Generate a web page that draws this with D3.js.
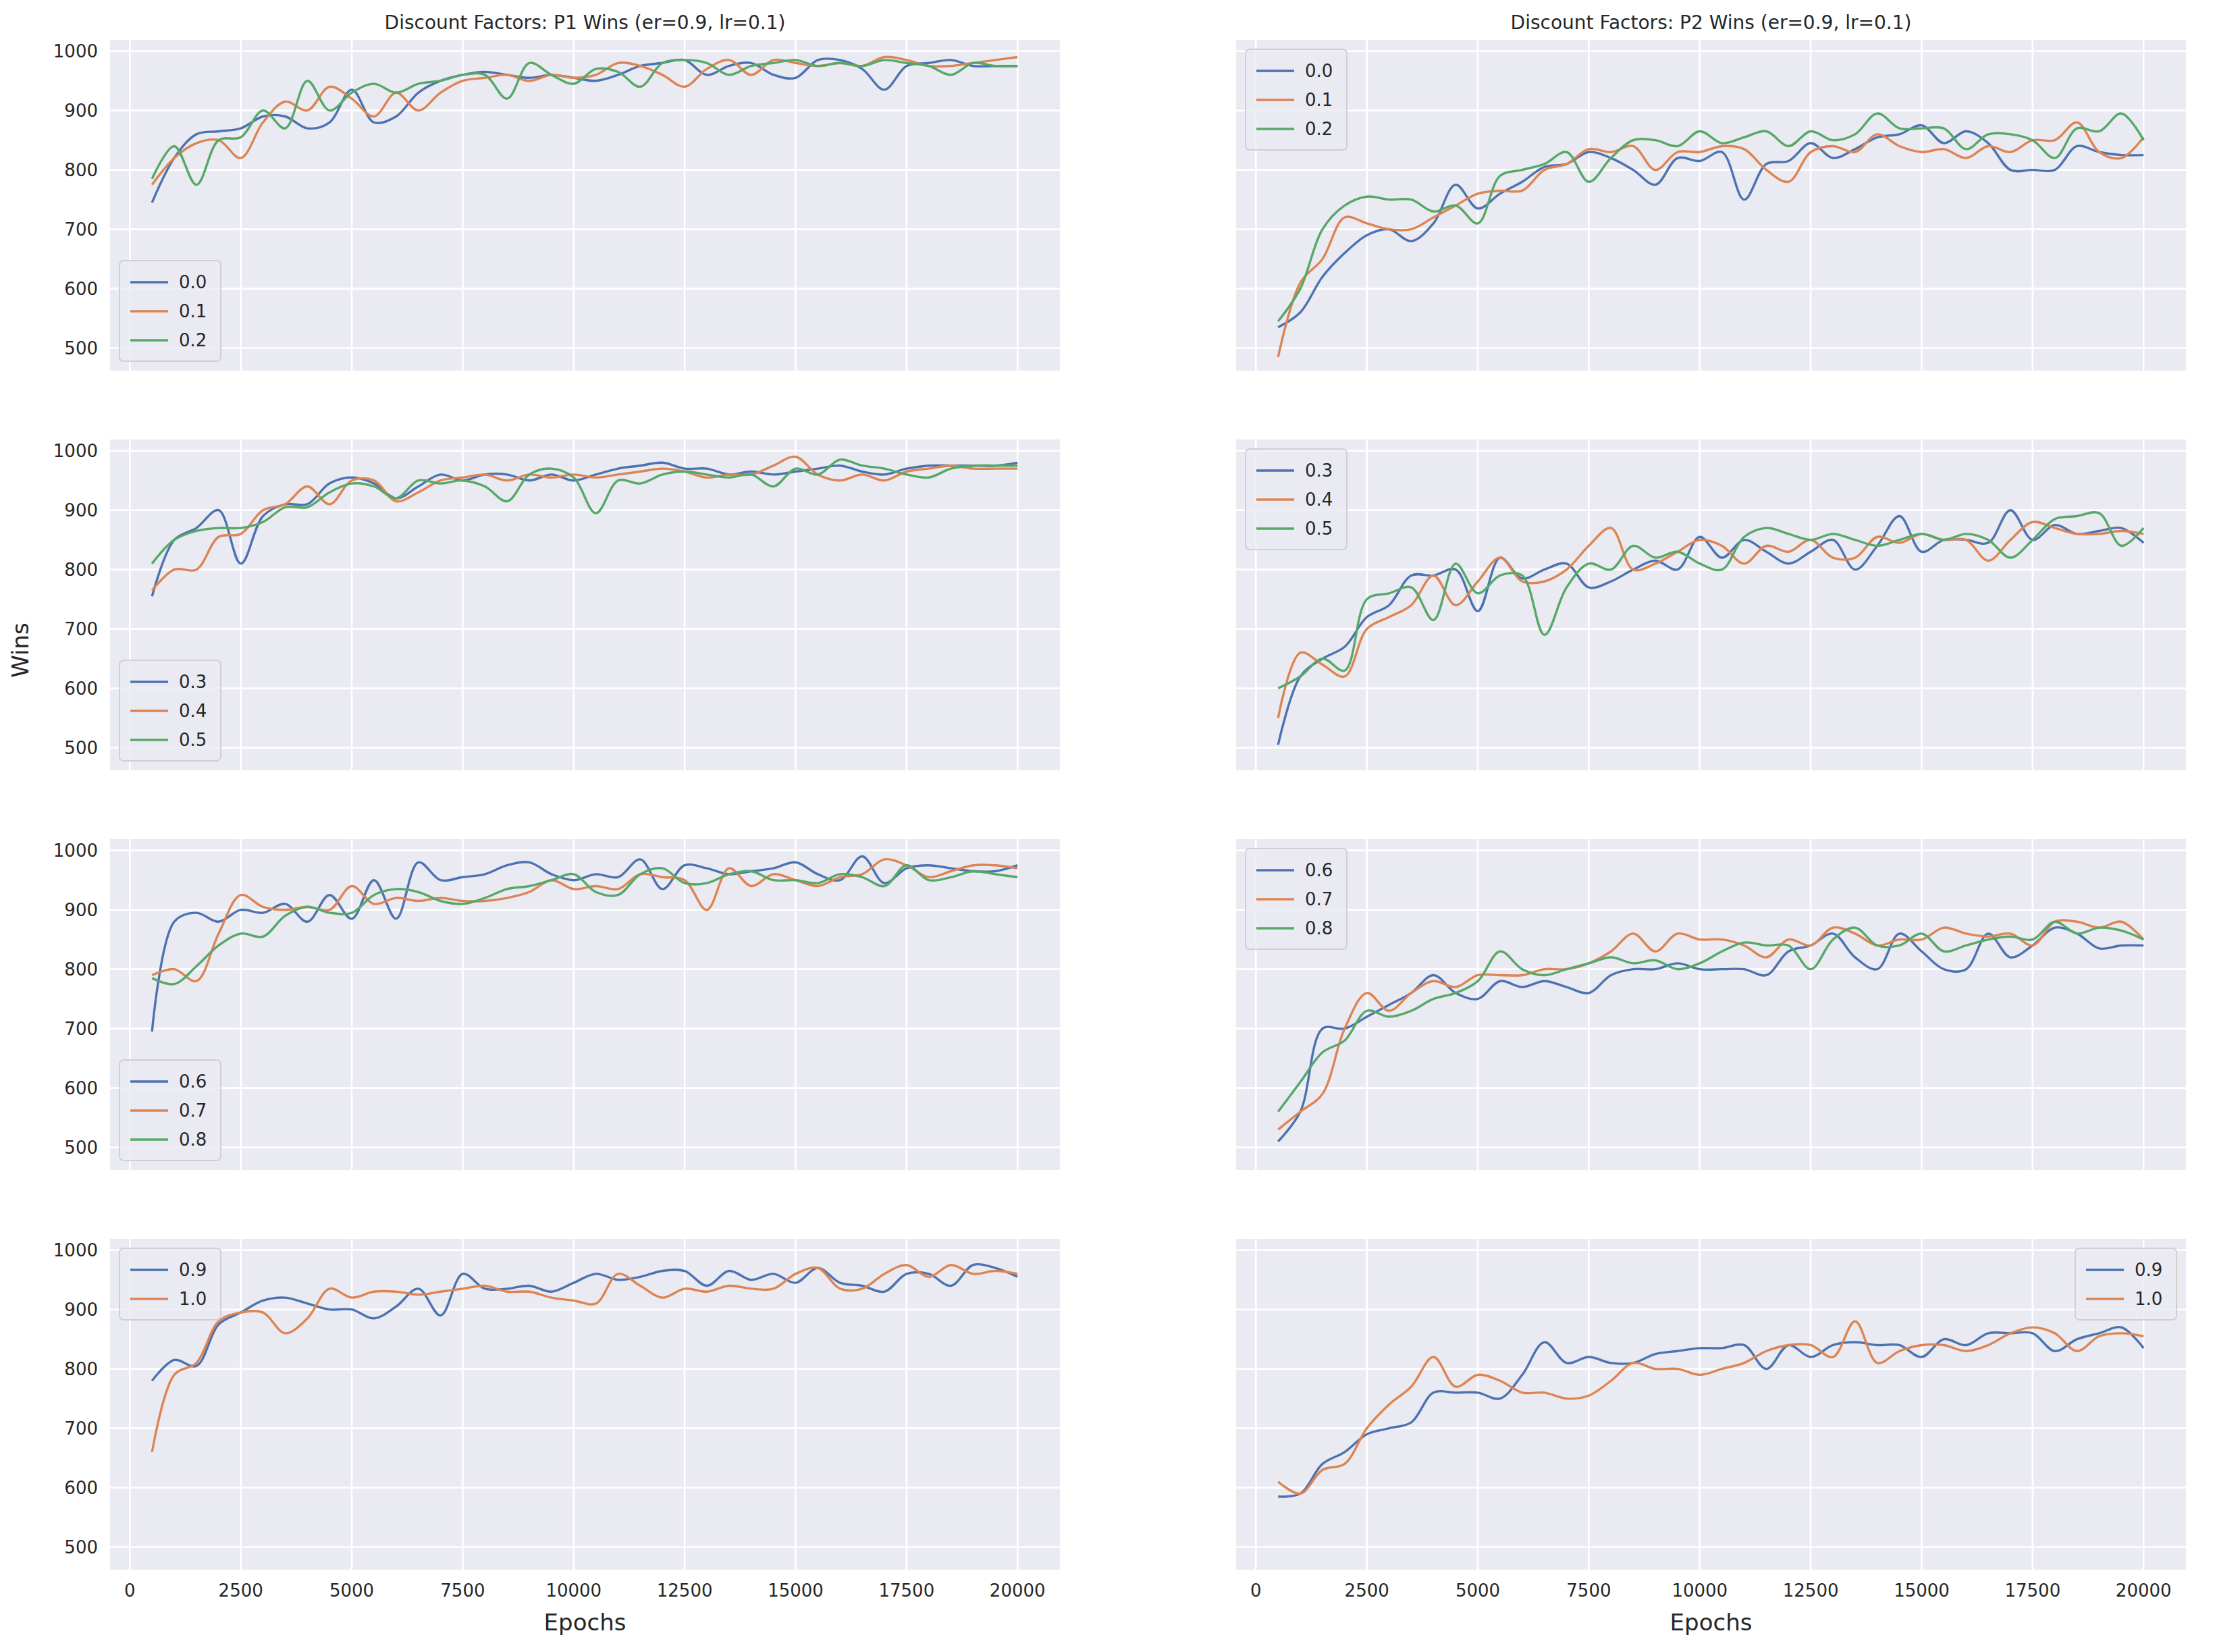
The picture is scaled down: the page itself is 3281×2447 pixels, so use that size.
<!DOCTYPE html>
<html><head><meta charset="utf-8">
<script src="https://cdn.jsdelivr.net/npm/d3@7"></script>
<style>body{margin:0;background:#fff}text{font-family:"DejaVu Sans",sans-serif;fill:#262626}</style>
</head><body><svg id="c" width="3281" height="2447"></svg>
<script>
const epochs = d3.range(500, 20001, 500);
const colors = ["#4c72b0","#dd8452","#55a868"];
const yTicks = [500,600,700,800,900,1000];
const xTicks = [0,2500,5000,7500,10000,12500,15000,17500,20000];
const titles = ["Discount Factors: P1 Wins (er=0.9, lr=0.1)","Discount Factors: P2 Wins (er=0.9, lr=0.1)"];
const groupLabels = [["0.0","0.1","0.2"],["0.3","0.4","0.5"],["0.6","0.7","0.8"],["0.9","1.0"]];

const p1_00=[745,820,860,865,870,890,890,870,880,935,880,890,930,950,960,965,960,955,960,955,950,960,975,980,985,960,975,980,960,955,985,985,970,935,975,980,985,975,975,975];
const p1_01=[775,820,845,850,820,880,915,900,940,920,890,930,900,930,950,955,960,950,960,955,960,980,975,960,940,970,985,960,985,980,975,980,975,990,985,975,975,980,985,990];
const p1_02=[785,840,775,850,855,900,870,950,900,930,945,930,945,950,960,960,920,980,960,945,970,965,940,980,985,980,960,975,980,985,975,980,975,985,980,975,960,980,975,975];
const p1_03=[755,850,870,900,810,890,910,910,945,955,945,920,940,960,950,960,960,950,960,950,960,970,975,980,970,970,960,965,960,965,970,975,965,960,970,975,975,975,975,980];
const p1_04=[765,800,800,855,860,900,910,940,910,950,950,915,930,950,955,960,950,960,955,960,955,960,965,970,965,955,960,960,975,990,960,950,960,950,965,970,975,970,970,970];
const p1_05=[810,850,865,870,870,880,905,905,930,945,940,920,950,945,950,940,915,960,970,955,895,950,945,960,965,960,955,960,940,970,960,985,975,970,960,955,970,975,975,975];
const p1_06=[695,880,895,880,900,895,910,880,925,885,950,885,980,950,955,960,975,980,960,950,960,955,985,935,975,970,960,965,970,980,960,950,990,945,970,975,970,965,965,975];
const p1_07=[790,800,780,860,925,905,900,905,900,940,910,920,915,920,915,915,920,930,950,935,940,935,960,955,950,900,970,940,960,950,940,955,960,985,975,955,965,975,975,970];
const p1_08=[785,775,805,840,860,855,890,905,895,895,925,935,930,915,910,920,935,940,950,960,930,925,960,970,945,945,960,965,950,950,945,960,955,940,975,950,955,965,960,955];
const p1_09=[780,815,805,875,895,915,920,910,900,900,885,905,935,890,960,935,935,940,930,945,960,950,955,965,965,940,965,950,960,945,970,945,940,930,960,960,940,975,970,955];
const p1_10=[660,790,810,880,895,895,860,885,935,920,930,930,925,930,935,940,930,930,920,915,910,960,940,920,935,930,940,935,935,960,970,935,935,960,975,955,975,960,965,960];
const p2_00=[535,560,620,660,690,700,680,710,775,735,760,780,805,810,830,820,800,775,820,815,830,750,810,815,845,820,835,855,860,875,845,865,845,800,800,800,840,830,825,825];
const p2_01=[485,610,650,720,710,700,700,720,740,760,765,765,800,810,835,830,840,800,830,830,840,835,800,780,830,840,830,860,840,830,835,820,840,830,850,850,880,830,820,855];
const p2_02=[545,600,700,740,755,750,750,730,740,710,790,800,810,830,780,820,850,850,840,865,845,855,865,840,865,850,860,895,870,870,870,835,860,860,850,820,870,865,895,850];
const p2_03=[505,620,650,670,720,740,790,790,800,730,820,785,800,810,770,780,800,815,800,855,820,850,830,810,830,850,800,840,890,830,850,850,845,900,850,875,860,865,870,845];
const p2_04=[550,660,640,620,700,720,740,790,740,780,820,780,780,800,840,870,800,810,830,850,840,810,840,830,850,820,820,855,845,860,850,850,815,850,880,870,860,860,865,860];
const p2_05=[600,620,650,630,750,760,770,715,810,760,790,790,690,770,810,800,840,820,830,810,800,855,870,860,850,860,850,840,850,860,850,860,850,820,850,885,890,895,840,870];
const p2_06=[510,560,700,700,720,740,760,790,760,750,780,770,780,770,760,790,800,800,810,800,800,800,790,830,840,860,820,800,860,830,800,800,860,820,840,870,860,835,840,840];
const p2_07=[530,560,590,700,760,730,760,780,770,790,790,790,800,800,810,830,860,830,860,850,850,840,820,850,840,870,860,840,850,850,870,860,855,860,840,880,880,870,880,850];
const p2_08=[560,610,660,680,730,720,730,750,760,780,830,800,790,800,810,820,810,815,800,810,830,845,840,840,800,850,870,840,840,860,830,840,850,855,850,880,860,870,865,850];
const p2_09=[585,590,640,660,690,700,710,760,760,760,750,790,845,810,820,810,810,825,830,835,835,840,800,840,820,840,845,840,840,820,850,840,860,860,860,830,850,860,870,835];
const p2_10=[610,590,630,640,700,740,770,820,770,790,780,760,760,750,755,780,810,800,800,790,800,810,830,840,840,820,880,810,830,840,840,830,840,860,870,860,830,855,860,855];

const panels = [
 [[p1_00,p1_01,p1_02],[p2_00,p2_01,p2_02]],
 [[p1_03,p1_04,p1_05],[p2_03,p2_04,p2_05]],
 [[p1_06,p1_07,p1_08],[p2_06,p2_07,p2_08]],
 [[p1_09,p1_10],[p2_09,p2_10]]
];
const legendPos = [["bl","tl"],["bl","tl"],["bl","tl"],["tl","tr"]];

const svg = d3.select("#c");
const colX = [163, 1831], W = 1407, H = 490;
const rowY = [59, 651, 1243, 1835];
const x = d3.scaleLinear().domain([-446, 20955]).range([0, W]);
const y = d3.scaleLinear().domain([462, 1019]).range([H, 0]);

panels.forEach((row, r) => row.forEach((series, c) => {
  const g = svg.append("g").attr("transform", `translate(${colX[c]},${rowY[r]})`);
  g.append("rect").attr("width", W).attr("height", H).attr("fill", "#eaeaf2");
  g.selectAll(".gy").data(yTicks).join("line").attr("x1",0).attr("x2",W)
    .attr("y1",d=>y(d)).attr("y2",d=>y(d)).attr("stroke","#fff").attr("stroke-width",2.6);
  g.selectAll(".gx").data(xTicks).join("line").attr("y1",0).attr("y2",H)
    .attr("x1",d=>x(d)).attr("x2",d=>x(d)).attr("stroke","#fff").attr("stroke-width",2.6);
  if (c === 0) {
    g.selectAll(".ty").data(yTicks).join("text").attr("x",-18).attr("y",d=>y(d))
      .attr("dy","0.35em").attr("text-anchor","end").attr("font-size",26).text(d=>d);
  }
  if (r === 3) {
    g.selectAll(".tx").data(xTicks).join("text").attr("x",d=>x(d)).attr("y",H+40)
      .attr("text-anchor","middle").attr("font-size",26).text(d=>d);
    g.append("text").attr("x",W/2).attr("y",H+90).attr("text-anchor","middle").attr("font-size",34).text("Epochs");
  }
  if (r === 0) {
    g.append("text").attr("x",W/2).attr("y",-16).attr("text-anchor","middle").attr("font-size",28).text(titles[c]);
  }
  const line = d3.line().x((d,i)=>x(epochs[i])).y(d=>y(d)).curve(d3.curveCatmullRom.alpha(0.5));
  series.forEach((s,i)=>g.append("path").attr("d",line(s)).attr("fill","none")
    .attr("stroke",colors[i]).attr("stroke-width",3.4));
  // legend
  const labels = groupLabels[r], lw = 150, lh = 20 + labels.length*43;
  const pos = legendPos[r][c];
  const lx = pos === "tr" ? W - lw - 14 : 14;
  const ly = pos === "bl" ? H - lh - 14 : 14;
  const lg = g.append("g").attr("transform",`translate(${lx},${ly})`);
  lg.append("rect").attr("width",lw).attr("height",lh).attr("rx",6)
    .attr("fill","#eaeaf2").attr("fill-opacity",0.8).attr("stroke","#d0d0d0").attr("stroke-width",2);
  labels.forEach((lab,i)=>{
    const yy = 32 + i*43;
    lg.append("line").attr("x1",16).attr("x2",72).attr("y1",yy).attr("y2",yy)
      .attr("stroke",colors[i]).attr("stroke-width",3.4);
    lg.append("text").attr("x",88).attr("y",yy).attr("dy","0.35em").attr("font-size",26).text(lab);
  });
}));
svg.append("text").attr("transform","translate(42,963) rotate(-90)").attr("text-anchor","middle")
  .attr("font-size",34).text("Wins");
</script></body></html>
